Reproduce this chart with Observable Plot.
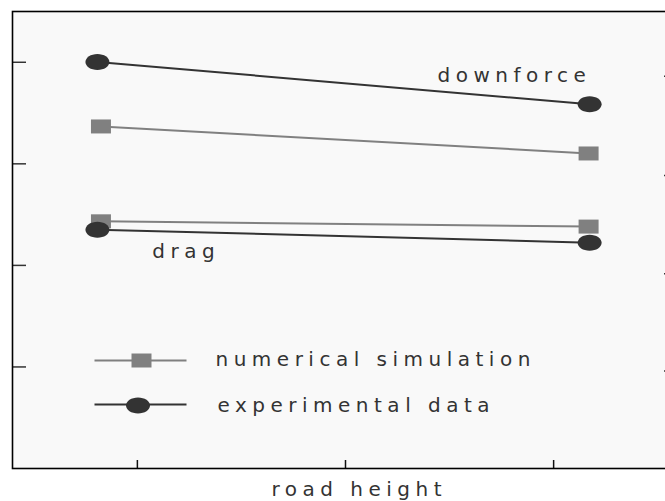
<!DOCTYPE html>
<html>
<head>
<meta charset="utf-8">
<script src="https://cdn.jsdelivr.net/npm/d3@7"></script>
<script src="https://cdn.jsdelivr.net/npm/@observablehq/plot@0.6"></script>
<style>
  html, body { margin: 0; padding: 0; background: #ffffff; overflow: hidden; }
  #chart { width: 665px; height: 501px; overflow: hidden; }
  #chart svg { display: block; overflow: hidden; }
  #chart svg text { letter-spacing: 5.5px; }
</style>
</head>
<body>
<div id="chart"></div>
<script>
// ---- data ----
const series = ["numerical simulation", "experimental data"];
const quantities = ["downforce", "drag"];
const simX = [0.825, 3.168];
const expX = [0.808, 3.173];
const simDownforce = [3.368, 3.102];
const expDownforce = [4.003, 3.586];
const simDrag = [2.434, 2.382];
const expDrag = [2.352, 2.224];
const xTicks = [1, 2, 3];
const leftTicks = [1, 2, 3, 4];
const rightTicks = [0.961, 1.918, 2.885, 3.862];
const xLabel = "road height";
// annotation anchors (data units)
const labelDownforce = {text: "downforce", x: 2.442, y: 3.866};
const labelDrag = {text: "drag", x: 1.072, y: 2.139};

const rows = [];
function addRows(src, q, xs, ys) { xs.forEach((x, i) => rows.push({src, q, key: src + "-" + q, x, y: ys[i]})); }
addRows(series[0], quantities[0], simX, simDownforce);
addRows(series[0], quantities[1], simX, simDrag);
addRows(series[1], quantities[0], expX, expDownforce);
addRows(series[1], quantities[1], expX, expDrag);

const simColor = "#808080";
const expColor = "#333333";
const color = d => d.src === series[0] ? simColor : expColor;

const ellipse = {draw(ctx) {
  const rx = 12, ry = 8, k = 0.5523;
  ctx.moveTo(rx, 0);
  ctx.bezierCurveTo(rx, ry * k, rx * k, ry, 0, ry);
  ctx.bezierCurveTo(-rx * k, ry, -rx, ry * k, -rx, 0);
  ctx.bezierCurveTo(-rx, -ry * k, -rx * k, -ry, 0, -ry);
  ctx.bezierCurveTo(rx * k, -ry, rx, -ry * k, rx, 0);
  ctx.closePath();
}};
const square = {draw(ctx) { ctx.rect(-10, -7, 20, 14); }};
const segment = {draw(ctx) { ctx.moveTo(-46, 0); ctx.lineTo(46, 0); }};

// SVG is 665 wide; the frame extends past the right edge (clipped, as in the reference)
const W = 665, ML = 12, MR = -13, MT = 11, MB = 33, H = 501;
const frameW = W - ML - MR, frameH = H - MT - MB;
const font = {fontFamily: "DejaVu Sans", fontSize: 20, fill: "#333333"};

const chart = Plot.plot({
  width: W, height: H,
  marginLeft: ML, marginRight: MR, marginTop: MT, marginBottom: MB,
  x: {domain: [0.4, 3.6], axis: null},
  y: {domain: [0, 4.5], axis: null},
  style: {background: "transparent", fontFamily: "DejaVu Sans", overflow: "hidden"},
  marks: [
    Plot.frame({fill: "#f9f9f9", stroke: null}),
    Plot.tickY(leftTicks, {y: d => d, stroke: "#333", strokeWidth: 1.5, insetRight: frameW - 14}),
    Plot.tickY(rightTicks, {y: d => d, stroke: "#333", strokeWidth: 1.5, insetLeft: frameW - 14}),
    Plot.tickX(xTicks, {x: d => d, stroke: "#111", strokeWidth: 1.5, insetTop: frameH - 8}),
    Plot.line(rows, {x: "x", y: "y", z: "key", stroke: color, strokeWidth: 2}),
    Plot.dot(rows.filter(d => d.src === series[0]), {x: "x", y: "y", symbol: square, fill: simColor, stroke: null}),
    Plot.dot(rows.filter(d => d.src === series[1]), {x: "x", y: "y", symbol: ellipse, fill: expColor, stroke: null}),
    Plot.text([labelDownforce, labelDrag], {x: "x", y: "y", text: "text", textAnchor: "start", lineAnchor: "middle", ...font}),
    // legend
    Plot.dot([0], {frameAnchor: "top-left", dx: 128, dy: 349, symbol: segment, stroke: simColor, strokeWidth: 2, fill: "none"}),
    Plot.dot([0], {frameAnchor: "top-left", dx: 129, dy: 349, symbol: square, fill: simColor, stroke: null}),
    Plot.text([series[0]], {frameAnchor: "top-left", dx: 203, dy: 347.6, textAnchor: "start", lineAnchor: "middle", ...font}),
    Plot.dot([0], {frameAnchor: "top-left", dx: 128, dy: 393, symbol: segment, stroke: expColor, strokeWidth: 2, fill: "none"}),
    Plot.dot([0], {frameAnchor: "top-left", dx: 125.5, dy: 394, symbol: ellipse, fill: expColor, stroke: null}),
    Plot.text([series[1]], {frameAnchor: "top-left", dx: 205, dy: 393.6, textAnchor: "start", lineAnchor: "middle", ...font}),
    // axis label
    Plot.text([xLabel], {x: [1.644], frameAnchor: "bottom", dy: 21.5, textAnchor: "start", lineAnchor: "middle", ...font}),
    Plot.frame({stroke: "#000", strokeWidth: 1.6})
  ]
});
document.getElementById("chart").appendChild(chart);
</script>
</body>
</html>
